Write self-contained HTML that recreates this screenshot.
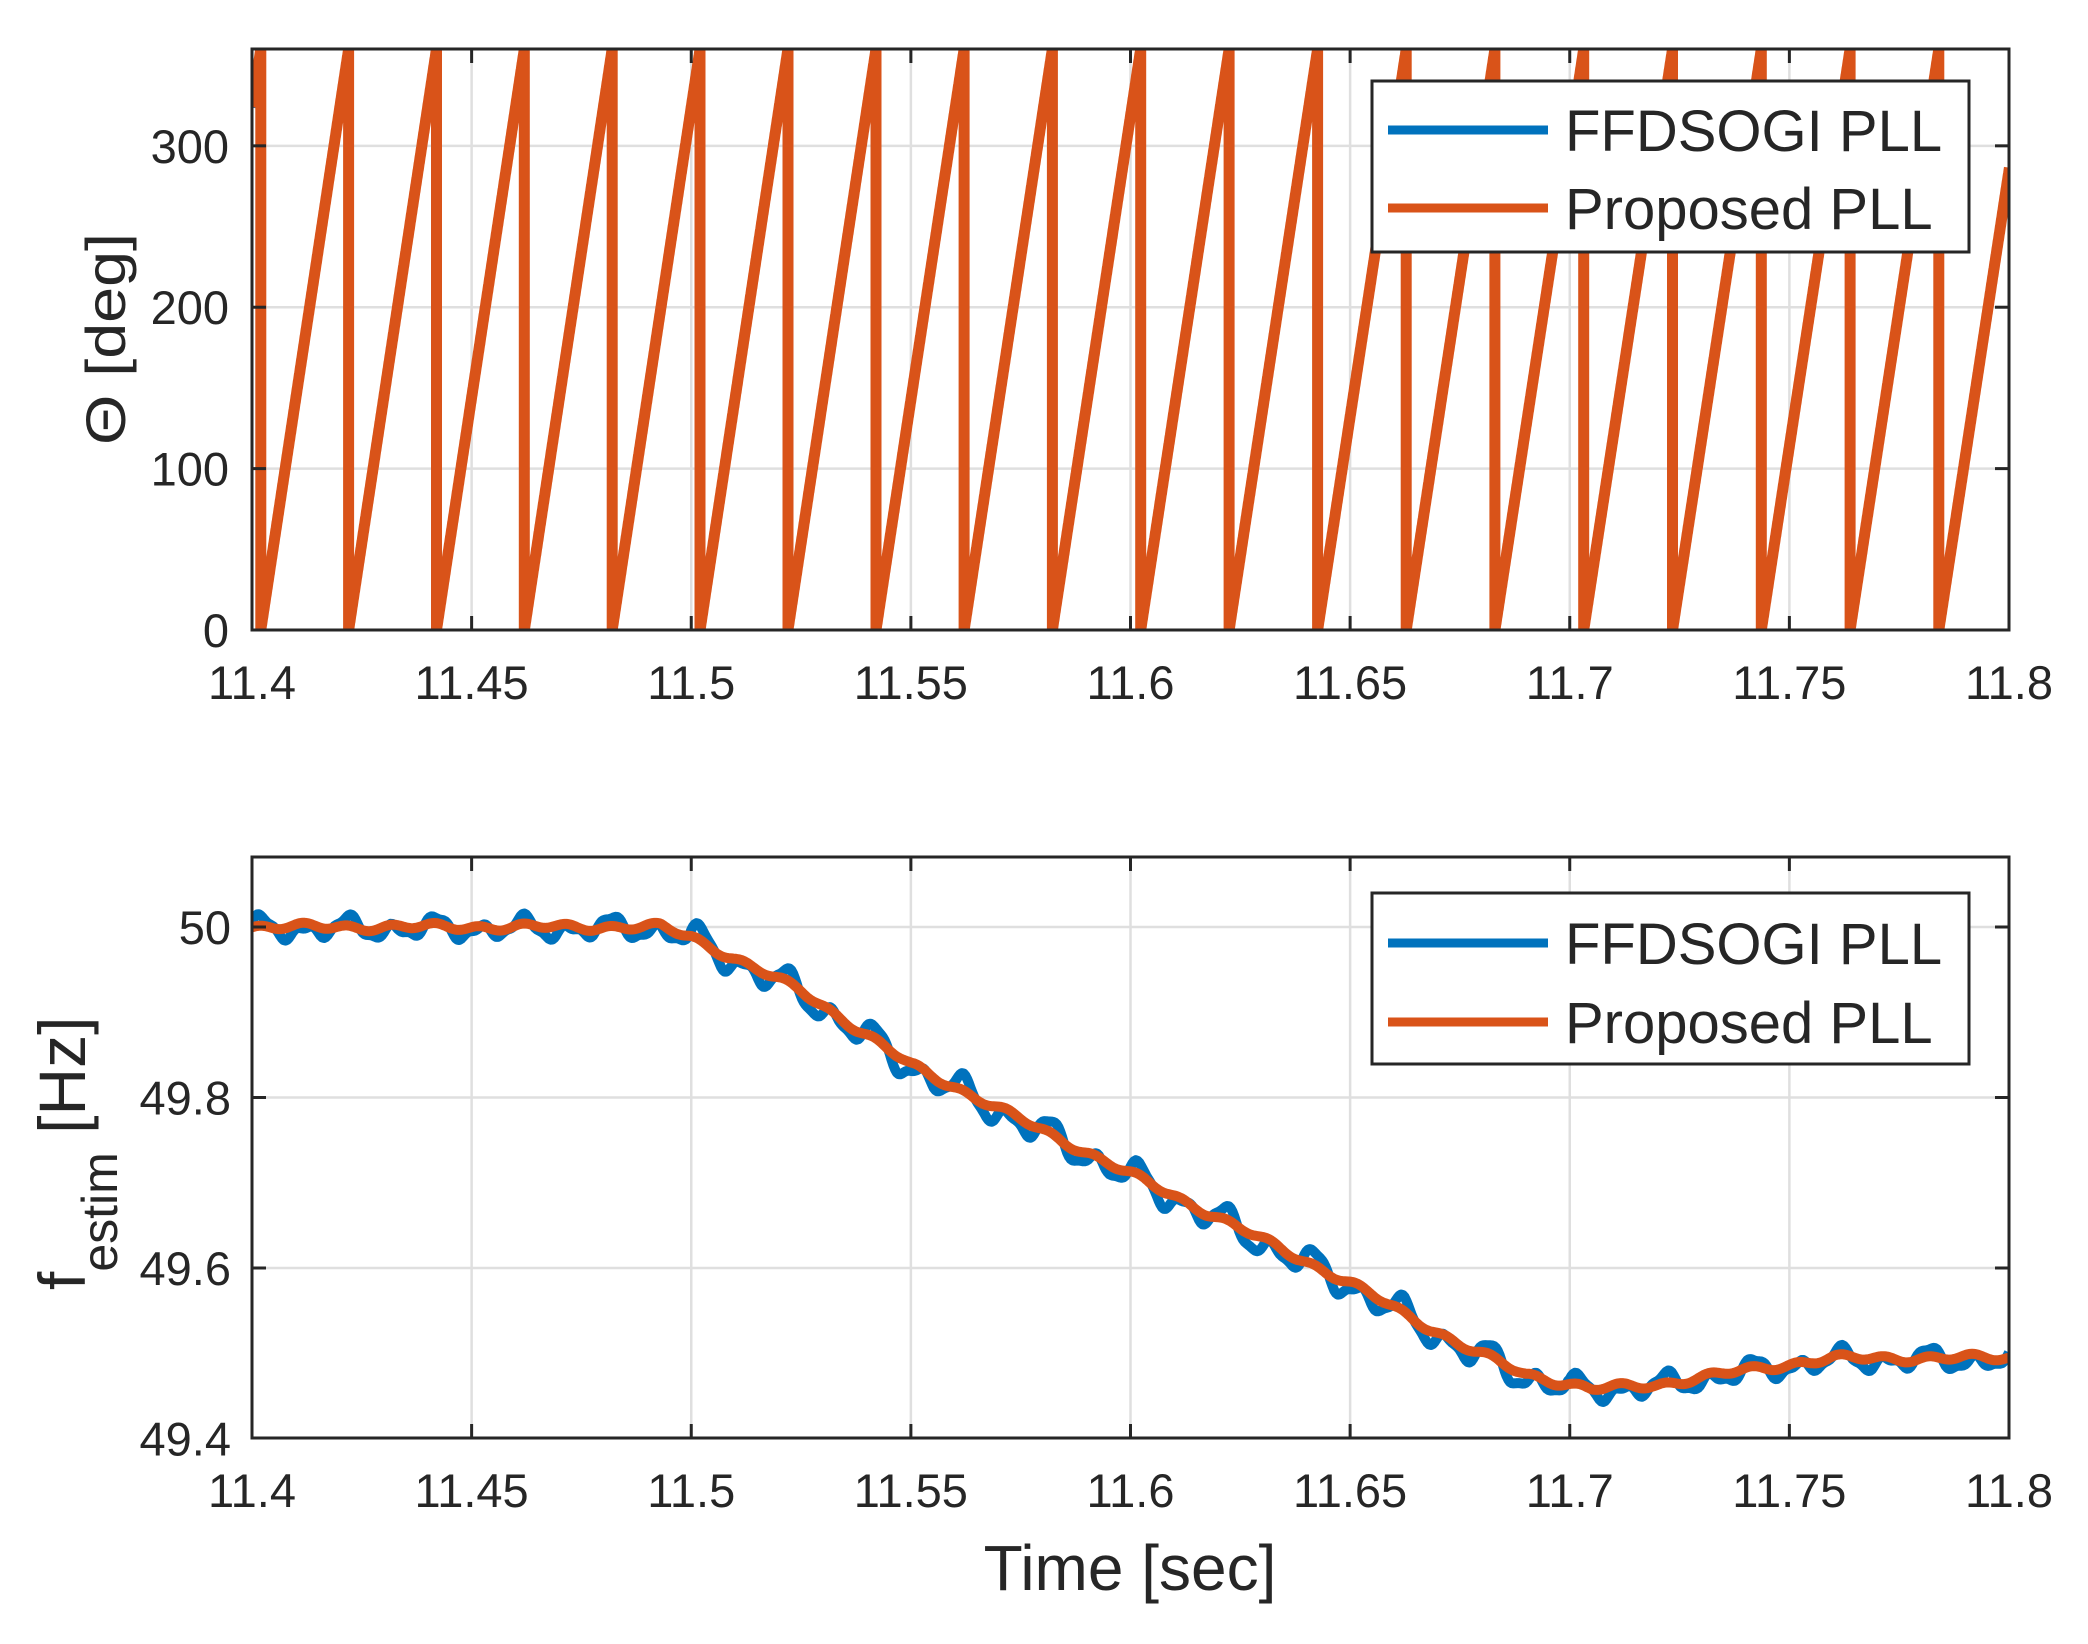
<!DOCTYPE html>
<html><head><meta charset="utf-8"><style>
html,body{margin:0;padding:0;background:#fff;}
svg{display:block;}
text{font-family:"Liberation Sans",Arial,sans-serif;fill:#262626;}
</style></head><body>
<svg id="s" width="2088" height="1644" viewBox="0 0 2088 1644" xmlns="http://www.w3.org/2000/svg">
<defs>
<clipPath id="c1"><rect x="252" y="49" width="1757" height="581"/></clipPath>
<clipPath id="c2"><rect x="252" y="857" width="1757" height="581"/></clipPath>
</defs>
<rect width="2088" height="1644" fill="#fff"/>
<g id="grid" stroke="#dfdfdf" stroke-width="2.5"></g>
<g id="series"></g>
<g id="axes" fill="none" stroke="#262626" stroke-width="3"></g>
<g id="labels" font-size="47"></g>

<g>
<rect x="1372" y="81" width="597" height="171" fill="#fff" stroke="#262626" stroke-width="3"/>
<line x1="1388" y1="130" x2="1548" y2="130" stroke="#0072BD" stroke-width="9"/>
<line x1="1388" y1="208" x2="1548" y2="208" stroke="#D95319" stroke-width="9"/>
<text x="1565" y="151" font-size="58" fill="#000">FFDSOGI PLL</text>
<text x="1565" y="229" font-size="58" fill="#000">Proposed PLL</text>
</g>
<g>
<rect x="1372" y="893" width="597" height="171" fill="#fff" stroke="#262626" stroke-width="3"/>
<line x1="1388" y1="943" x2="1548" y2="943" stroke="#0072BD" stroke-width="9"/>
<line x1="1388" y1="1022" x2="1548" y2="1022" stroke="#D95319" stroke-width="9"/>
<text x="1565" y="964" font-size="58" fill="#000">FFDSOGI PLL</text>
<text x="1565" y="1043" font-size="58" fill="#000">Proposed PLL</text>
</g>

<text x="1130" y="1590" font-size="64" text-anchor="middle">Time [sec]</text>
<text transform="translate(125,339) rotate(-90)" font-size="56" text-anchor="middle" textLength="212" lengthAdjust="spacingAndGlyphs">Θ [deg]</text>
<text transform="translate(85,1290) rotate(-90)" font-size="66">f<tspan font-size="50" dy="32">estim</tspan><tspan dy="-32"> [Hz]</tspan></text>
</svg>
<script>
(function(){
var NS="http://www.w3.org/2000/svg";
function el(p,n,a,txt){var e=document.createElementNS(NS,n);for(var k in a)e.setAttribute(k,a[k]);if(txt!==undefined)e.textContent=txt;document.getElementById(p).appendChild(e);return e;}
var L=252,R=2009;
function X(t){return L+(t-11.4)*(R-L)/0.4;}
var T1=49,B1=630; function Y1(d){return B1-d*(B1-T1)/360;}
var T2=857,B2=1438; function Y2(f){return 927+(50-f)*852.5;}
var xt=[11.4,11.45,11.5,11.55,11.6,11.65,11.7,11.75,11.8];
var xl=["11.4","11.45","11.5","11.55","11.6","11.65","11.7","11.75","11.8"];
for(var i=1;i<8;i++){var x=X(xt[i]);
 el("grid","line",{x1:x,y1:T1,x2:x,y2:B1});
 el("grid","line",{x1:x,y1:T2,x2:x,y2:B2});}
[100,200,300].forEach(function(d){el("grid","line",{x1:L,x2:R,y1:Y1(d),y2:Y1(d)});});
[50,49.8,49.6].forEach(function(f){el("grid","line",{x1:L,x2:R,y1:Y2(f),y2:Y2(f)});});
[[T1,B1],[T2,B2]].forEach(function(b){
 el("axes","rect",{x:L,y:b[0],width:R-L,height:b[1]-b[0]});
 for(var i=1;i<8;i++){var x=X(xt[i]);
  el("axes","line",{x1:x,x2:x,y1:b[1],y2:b[1]-14});
  el("axes","line",{x1:x,x2:x,y1:b[0],y2:b[0]+14});}
});
[100,200,300].forEach(function(d){var y=Y1(d);el("axes","line",{x1:L,x2:L+14,y1:y,y2:y});el("axes","line",{x1:R,x2:R-14,y1:y,y2:y});});
[50,49.8,49.6].forEach(function(f){var y=Y2(f);el("axes","line",{x1:L,x2:L+14,y1:y,y2:y});el("axes","line",{x1:R,x2:R-14,y1:y,y2:y});});
for(var i=0;i<9;i++){
 el("labels","text",{x:X(xt[i]),y:699,"text-anchor":"middle"},xl[i]);
 el("labels","text",{x:X(xt[i]),y:1507,"text-anchor":"middle"},xl[i]);}
[0,100,200,300].forEach(function(d){el("labels","text",{x:229,y:Y1(d)+17,"text-anchor":"end"},String(d));});
[["50",50],["49.8",49.8],["49.6",49.6],["49.4",49.4]].forEach(function(p){el("labels","text",{x:231,y:Y2(p[1])+17,"text-anchor":"end"},p[0]);});
var kp=[[11.3,50],[11.493,50],[11.5,49.988],[11.525,49.925],[11.55,49.838],[11.6,49.71],[11.65,49.582],[11.675,49.51],[11.69,49.475],[11.705,49.458],[11.72,49.463],[11.74,49.48],[11.76,49.494],[11.9,49.496]];
function fm(t){for(var i=0;i<kp.length-1;i++){if(t<=kp[i+1][0]){var a=kp[i],b=kp[i+1];var u=(t-a[0])/(b[0]-a[0]);return a[1]+(b[1]-a[1])*u;}}return 49.496;}
function fo(t){return fm(t)+0.003*Math.sin(2*Math.PI*100*t+0.5)+0.002*Math.sin(2*Math.PI*37*t);}
function fb(t){var ramp=(t>11.5&&t<11.7)?1.4:1;return fm(t)-0.002*ramp+ramp*(0.009*Math.sin(2*Math.PI*100*t+0.3)+0.006*Math.sin(2*Math.PI*50*t+1.2))+0.003*Math.sin(2*Math.PI*230*t);}
function pathF(fn){var d="";for(var t=11.4;t<=11.8001;t+=0.0004){d+=(d?"L":"M")+X(t).toFixed(1)+","+Y2(fn(t)).toFixed(1);}return d;}
var g2=el("series","g",{"clip-path":"url(#c2)",fill:"none","stroke-linejoin":"round"});
var p=document.createElementNS(NS,"path");p.setAttribute("d",pathF(fb));p.setAttribute("stroke","#0072BD");p.setAttribute("stroke-width","10");g2.appendChild(p);
p=document.createElementNS(NS,"path");p.setAttribute("d",pathF(fo));p.setAttribute("stroke","#D95319");p.setAttribute("stroke-width","10");g2.appendChild(p);
function pathT(off){var dt=0.00005,ph=-0.1-off,d="",prev=null;
 for(var t=11.4;t<=11.8001;t+=dt){
  var fr=ph-Math.floor(ph);
  if(prev!==null&&fr<prev){d+="L"+X(t-dt*fr/(fr+1-prev)).toFixed(1)+","+Y1(360).toFixed(1)+"L"+X(t-dt*fr/(fr+1-prev)).toFixed(1)+","+Y1(0).toFixed(1);}
  d+=(d?"L":"M")+X(t).toFixed(1)+","+Y1(fr*360).toFixed(1);
  prev=fr;ph+=fm(t)*dt;}
 return d;}
var g1=el("series","g",{"clip-path":"url(#c1)",fill:"none","stroke-linejoin":"miter"});
p=document.createElementNS(NS,"path");p.setAttribute("d",pathT(0.001));p.setAttribute("stroke","#0072BD");p.setAttribute("stroke-width","10");g1.appendChild(p);
p=document.createElementNS(NS,"path");p.setAttribute("d",pathT(0));p.setAttribute("stroke","#D95319");p.setAttribute("stroke-width","11");g1.appendChild(p);
})();
</script>
</body></html>
